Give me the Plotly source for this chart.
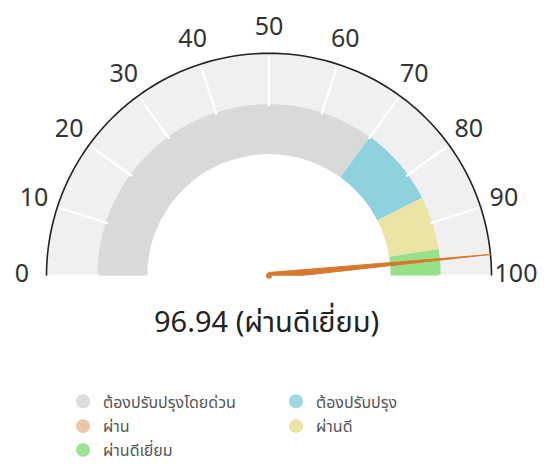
import plotly.graph_objects as go

# ---- data ----
value = 96.94
value_label = "ผ่านดีเยี่ยม"
tick_values = [0, 10, 20, 30, 40, 50, 60, 70, 80, 90, 100]
tick_labels = ["0", "10", "20", "30", "40", "50", "60", "70", "80", "90", "100"]
band_names = ["ต้องปรับปรุงโดยด่วน", "ต้องปรับปรุง", "ผ่านดี", "ผ่านดีเยี่ยม"]
band_lo = [0, 70, 85, 95]
band_hi = [70, 85, 95, 100]
band_colors = ["#d9d9d9", "#8fd2df", "#ebe4a4", "#97e08a"]
legend_names = ["ต้องปรับปรุงโดยด่วน", "ต้องปรับปรุง", "ผ่าน", "ผ่านดี", "ผ่านดีเยี่ยม"]
legend_colors = ["#dcdcdc", "#9fd8e4", "#eac8a6", "#ede4a8", "#9ee392"]
needle_color = "#d8782f"

# ---- scale: value -> angle (0 at left/west, 100 at right/east) ----
vmin, vmax = 0, 100
DEG = 180.0 / (vmax - vmin)


def ang(v):
    return 180.0 - (v - vmin) * DEG


R_IN, R_MID, R_OUT = 0.547, 0.772, 1.0
R_LABEL = 1.11
R_MAX = 1.165           # radial range (room for the tick labels)
R_PX = 223.5            # pixel radius of the outer arc

W, H = 539, 459          # page body has an 8px margin
OFF = 8
CX, CY = 269, 277        # gauge centre in page pixels


def px(xp):
    return (xp - OFF) / W


def py(yp):
    return 1 - (yp - OFF) / H


FONT = "Noto Sans, Noto Sans Thai, Lato, sans-serif"

fig = go.Figure()

# outer light background ring
fig.add_trace(go.Barpolar(
    r=[R_OUT - R_MID], base=[R_MID], theta=[90], width=[180],
    marker=dict(color="#f0f0f1", line=dict(width=0)),
    showlegend=False, hoverinfo="skip"))

# coloured bands
fig.add_trace(go.Barpolar(
    r=[R_MID - R_IN] * len(band_lo),
    base=[R_IN] * len(band_lo),
    theta=[ang((lo + hi) / 2) for lo, hi in zip(band_lo, band_hi)],
    width=[(hi - lo) * DEG for lo, hi in zip(band_lo, band_hi)],
    marker=dict(color=band_colors, line=dict(width=0)),
    showlegend=False, hoverinfo="skip"))

# white tick separators on the outer ring
tr, tt = [], []
for v in tick_values:
    tr += [R_MID - 0.01, R_OUT - 0.012, None]
    tt += [ang(v), ang(v), None]
fig.add_trace(go.Scatterpolar(
    r=tr, theta=tt, mode="lines",
    line=dict(color="white", width=2.5),
    showlegend=False, hoverinfo="skip"))

# outer arc
arc_vals = list(range(vmin, vmax + 1))
fig.add_trace(go.Scatterpolar(
    r=[R_OUT] * len(arc_vals), theta=[ang(v) for v in arc_vals],
    mode="lines", line=dict(color="#222222", width=1.6),
    cliponaxis=False, showlegend=False, hoverinfo="skip"))

# tick labels
fig.add_trace(go.Scatterpolar(
    r=[R_LABEL] * len(tick_values), theta=[ang(v) for v in tick_values],
    mode="text", text=tick_labels, textposition="middle center",
    textfont=dict(size=25, color="#333333", family=FONT),
    cliponaxis=False, showlegend=False, hoverinfo="skip"))

# needle
t = ang(value)
w = 0.015
fig.add_trace(go.Scatterpolar(
    r=[w, R_OUT, w, w], theta=[t + 90, t, t - 90, t + 90],
    mode="lines", fill="toself", fillcolor=needle_color,
    line=dict(color=needle_color, width=1),
    showlegend=False, hoverinfo="skip"))
fig.add_trace(go.Scatterpolar(
    r=[0], theta=[0], mode="markers",
    marker=dict(color=needle_color, size=6),
    showlegend=False, hoverinfo="skip"))

# legend entries (three rows, two columns)
legend_ids = ["legend", "legend", "legend2", "legend2", "legend3"]
for name, col, lg in zip(legend_names, legend_colors, legend_ids):
    fig.add_trace(go.Scatterpolar(
        r=[None], theta=[None], mode="markers", name=name, legend=lg,
        marker=dict(color=col, size=14, symbol="circle")))

row_centers = [402, 427, 451]   # page pixels (legend anchor rows)


def legend_cfg(yc):
    return dict(
        orientation="h", x=px(63), xanchor="left",
        y=1 - (yc - OFF - 16) / H, yanchor="top",
        entrywidth=168, entrywidthmode="pixels",
        font=dict(size=16, color="#555555", family=FONT),
        bgcolor="rgba(0,0,0,0)",
        itemclick=False, itemdoubleclick=False)


RD = R_PX * R_MAX
fig.update_layout(
    width=W, height=H,
    margin=dict(l=0, r=0, t=0, b=0),
    paper_bgcolor="white", plot_bgcolor="white",
    font=dict(family=FONT, color="#333333"),
    polar=dict(
        domain=dict(x=[px(CX - RD), px(CX + RD)], y=[py(CY), py(CY - RD)]),
        sector=[0, 180], hole=0, bgcolor="rgba(0,0,0,0)",
        radialaxis=dict(range=[0, R_MAX], visible=False),
        angularaxis=dict(visible=False),
    ),
    legend=legend_cfg(row_centers[0]),
    legend2=legend_cfg(row_centers[1]),
    legend3=legend_cfg(row_centers[2]),
    annotations=[dict(
        text=f"{value:.2f} ({value_label})",
        x=px(266.5), y=py(343), xref="paper", yref="paper",
        showarrow=False, font=dict(size=29, color="#222222", family=FONT))],
)

fig.write_html("out.html")
